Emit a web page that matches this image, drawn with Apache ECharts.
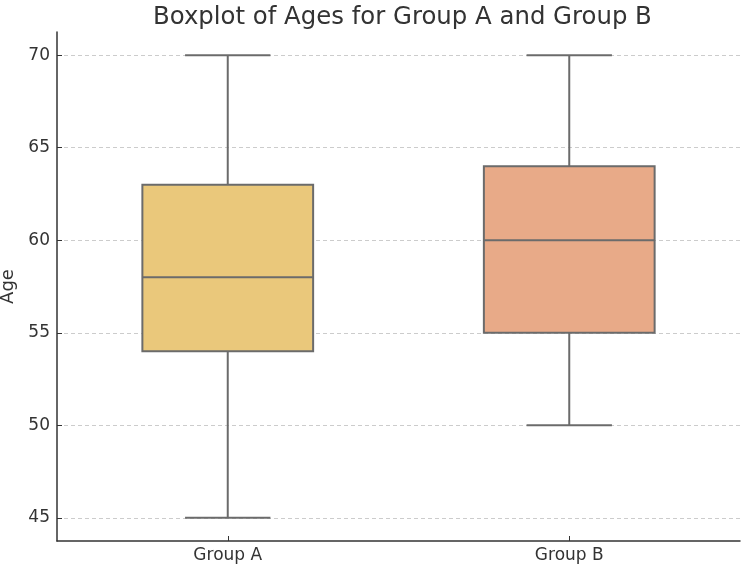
<!DOCTYPE html>
<html>
<head>
<meta charset="utf-8">
<script src="https://cdn.jsdelivr.net/npm/echarts@6/dist/echarts.min.js"></script>
<style>html,body{margin:0;padding:0;background:#fff}#c{width:744px;height:568px}</style>
</head>
<body>
<div id="c"></div>
<script>
const categories = ['Group A', 'Group B'];
const mins = [45, 50];
const q1s = [54, 55];
const medians = [58, 60];
const q3s = [63, 64];
const maxs = [70, 70];
const yTicks = [45, 50, 55, 60, 65, 70];
const fills = ['#EAC87B', '#E8AA88'];

const data = categories.map((c, i) => [i, mins[i], q1s[i], medians[i], q3s[i], maxs[i]]);
const lineColor = '#6b6b6b';

const chart = echarts.init(document.getElementById('c'));
chart.setOption({
  animation: false,
  title: {
    text: 'Boxplot of Ages for Group A and Group B',
    left: 148, top: 1,
    textStyle: { fontFamily: 'DejaVu Sans', fontSize: 24.4, fontWeight: 'normal', color: '#333' }
  },
  grid: { left: 57, right: 4, top: 32, bottom: 27, containLabel: false, outerBoundsMode: 'none' },
  xAxis: {
    type: 'category', data: categories,
    axisLine: { lineStyle: { color: '#333', width: 1.5 } },
    axisTick: { show: true, inside: true, alignWithLabel: true, length: 5, lineStyle: { color: '#333', width: 1 } },
    axisLabel: { fontFamily: 'DejaVu Sans', fontSize: 17, color: '#333', margin: 6 },
    splitLine: { show: false }
  },
  yAxis: {
    type: 'value', min: 43.75, max: 71.25,
    name: 'Age', nameLocation: 'middle', nameGap: 35,
    nameTextStyle: { fontFamily: 'DejaVu Sans', fontSize: 18, color: '#333' },
    axisLine: { show: true, lineStyle: { color: '#333', width: 1.5 } },
    axisTick: { show: true, inside: true, length: 5, customValues: yTicks, lineStyle: { color: '#333', width: 1 } },
    axisLabel: { fontFamily: 'DejaVu Sans', fontSize: 17, color: '#333', margin: 7, customValues: yTicks },
    splitLine: { show: true, lineStyle: { color: '#cccccc', type: [4, 3], width: 1 } }
  },
  series: [{
    type: 'custom',
    data: data,
    encode: { x: 0, y: [1, 2, 3, 4, 5] },
    renderItem: function (params, api) {
      const idx = api.value(0);
      const pMin = api.coord([idx, api.value(1)]);
      const pQ1 = api.coord([idx, api.value(2)]);
      const pMed = api.coord([idx, api.value(3)]);
      const pQ3 = api.coord([idx, api.value(4)]);
      const pMax = api.coord([idx, api.value(5)]);
      const bw = api.size([1, 0])[0];
      const hb = bw * 0.25;
      const hc = bw * 0.125;
      const x = pMed[0];
      const ls = { stroke: lineColor, lineWidth: 2, fill: null };
      return {
        type: 'group',
        children: [
          { type: 'line', shape: { x1: x, y1: pQ1[1], x2: x, y2: pMin[1] }, style: ls },
          { type: 'line', shape: { x1: x, y1: pQ3[1], x2: x, y2: pMax[1] }, style: ls },
          { type: 'line', shape: { x1: x - hc, y1: pMin[1], x2: x + hc, y2: pMin[1] }, style: ls },
          { type: 'line', shape: { x1: x - hc, y1: pMax[1], x2: x + hc, y2: pMax[1] }, style: ls },
          { type: 'rect', shape: { x: x - hb, y: pQ3[1], width: 2 * hb, height: pQ1[1] - pQ3[1] },
            style: { fill: fills[params.dataIndex], stroke: lineColor, lineWidth: 2 } },
          { type: 'line', shape: { x1: x - hb, y1: pMed[1], x2: x + hb, y2: pMed[1] }, style: ls }
        ]
      };
    }
  }]
});
</script>
</body>
</html>
